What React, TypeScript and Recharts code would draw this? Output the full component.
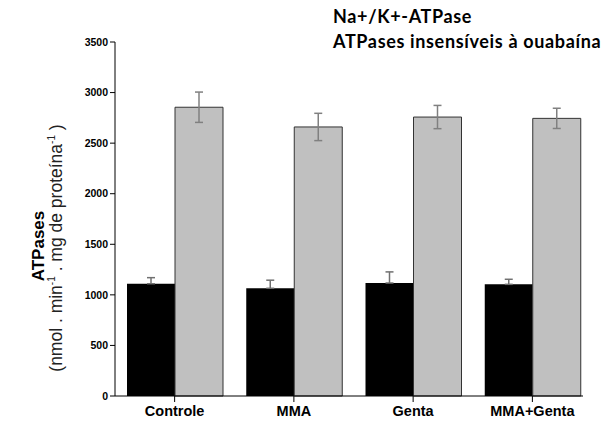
import React from 'react'
import {
  BarChart,
  Bar,
  XAxis,
  YAxis,
  ErrorBar,
} from 'recharts'

// groups on the x axis
const groups = ['Controle', 'MMA', 'Genta', 'MMA+Genta']

// Na+/K+-ATPase (black bars) and its error
const naK = [1110, 1065, 1117, 1104]
const naKErr = [60, 80, 110, 50]

// ATPases insensíveis à ouabaína (grey bars) and its error
const insens = [2855, 2660, 2758, 2745]
const insensErr = [150, 135, 115, 100]

const yTicks = [0, 500, 1000, 1500, 2000, 2500, 3000, 3500]

const legendLines = ['Na+/K+-ATPase', 'ATPases insensíveis à ouabaína']

const data = groups.map((g, i) => ({
  group: g,
  naK: naK[i],
  // only the upper whisker shows above the black bar
  naKErr: [0, naKErr[i]],
  insens: insens[i],
  insensErr: insensErr[i],
}))

const axisFont = 'Liberation Sans, Arial, sans-serif'

function LegendText() {
  return (
    <div
      style={{
        position: 'absolute',
        left: 333,
        top: 4,
        fontFamily: 'Lato, Calibri, sans-serif',
        fontWeight: 700,
        fontSize: 18,
        letterSpacing: 0.65,
        lineHeight: '25px',
        color: '#000',
        whiteSpace: 'nowrap',
      }}
    >
      {legendLines.map((t) => (
        <div key={t}>{t}</div>
      ))}
    </div>
  )
}

function YLabel() {
  return (
    <g fontFamily={axisFont} fill="#000">
      <text
        transform="translate(44, 246) rotate(-90)"
        textAnchor="middle"
        fontWeight={700}
        fontSize={17}
      >
        ATPases
      </text>
      <text
        transform="translate(62, 248) rotate(-90)"
        textAnchor="middle"
        fontSize={17.5}
        fill="#222"
      >
        <tspan>(nmol . min</tspan>
        <tspan fontSize={10} dy={-7}>-1</tspan>
        <tspan dy={7}> . mg de proteína</tspan>
        <tspan fontSize={10} dy={-7}>-1</tspan>
        <tspan dy={7}> )</tspan>
      </text>
    </g>
  )
}

export default function App() {
  return (
    <div style={{ position: 'absolute', left: 0, top: 0, width: 607, height: 424, background: '#fff' }}>
      <BarChart
        width={607}
        height={424}
        data={data}
        margin={{ top: 42, right: 24, bottom: 0, left: 55 }}
        barGap={0}
        barSize={48}
      >
        <XAxis
          dataKey="group"
          height={28}
          stroke="#000"
          tickLine={{ stroke: '#000' }}
          tickSize={6}
          tickMargin={4}
          padding={{ left: 0, right: -9 }}
          tick={{ fill: '#000', fontSize: 14.5, fontWeight: 700, fontFamily: axisFont }}
        />
        <YAxis
          width={60}
          domain={[0, 3500]}
          ticks={yTicks}
          stroke="#000"
          tickSize={5}
          tick={{ fill: '#000', fontSize: 10.5, fontWeight: 700, fontFamily: axisFont }}
          label={{ content: () => <YLabel /> }}
        />
        <Bar dataKey="naK" fill="#000" isAnimationActive={false}>
          <ErrorBar dataKey="naKErr" width={4} stroke="#707070" strokeWidth={1.5} isAnimationActive={false} />
        </Bar>
        <Bar dataKey="insens" fill="#c0c0c0" stroke="#333" strokeWidth={1} isAnimationActive={false}>
          <ErrorBar dataKey="insensErr" width={4} stroke="#808080" strokeWidth={1.5} isAnimationActive={false} />
        </Bar>
      </BarChart>
      <LegendText />
    </div>
  )
}
